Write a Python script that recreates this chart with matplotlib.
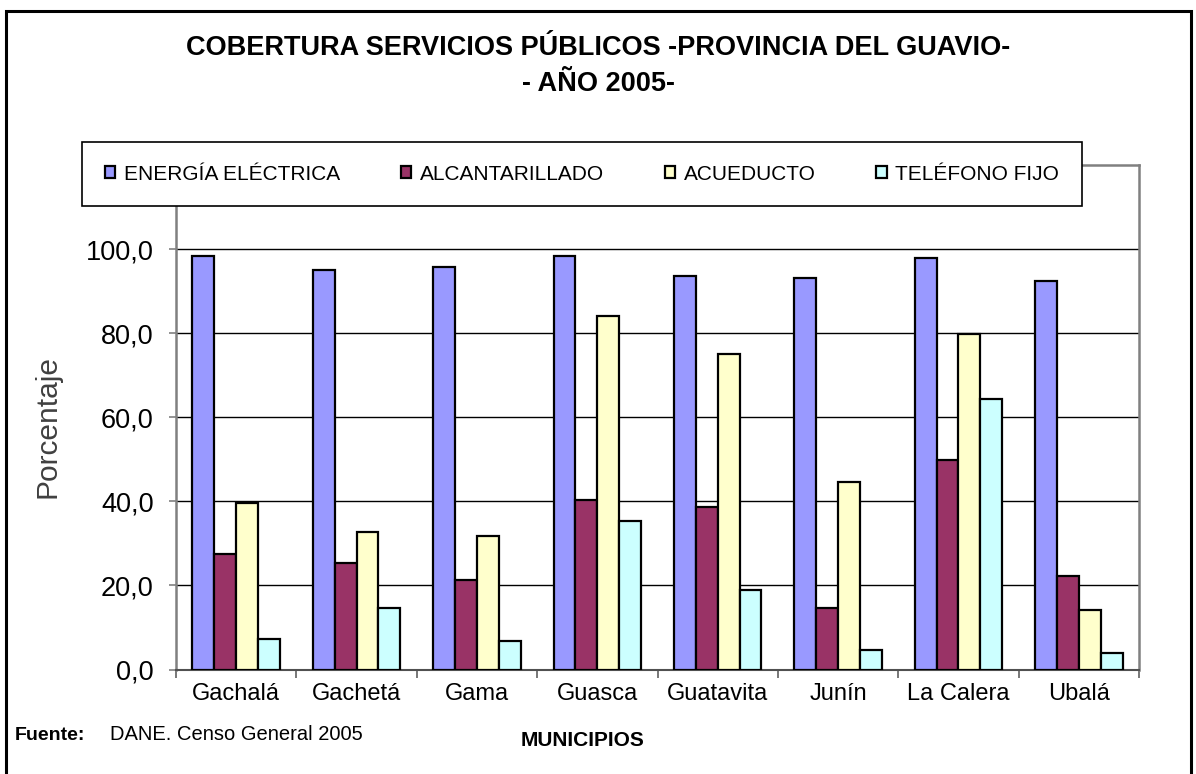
import matplotlib
matplotlib.use('Agg')
import matplotlib.pyplot as plt
import numpy as np
from matplotlib.patches import Rectangle

municipios = ['Gachalá', 'Gachetá', 'Gama', 'Guasca', 'Guatavita', 'Junín', 'La Calera', 'Ubalá']
energia = [98.4, 95.1, 95.7, 98.4, 93.5, 93.1, 97.8, 92.5]
alcantarillado = [27.5, 25.4, 21.2, 40.2, 38.7, 14.7, 49.8, 22.2]
acueducto = [39.7, 32.8, 31.7, 84.0, 75.0, 44.6, 79.8, 14.2]
telefono = [7.3, 14.7, 6.8, 35.4, 19.0, 4.7, 64.3, 4.0]
series_names = ['ENERGÍA ELÉCTRICA', 'ALCANTARILLADO', 'ACUEDUCTO', 'TELÉFONO FIJO']
yticks = [0, 20, 40, 60, 80, 100]
ytick_labels = ['0,0', '20,0', '40,0', '60,0', '80,0', '100,0']

colors = ['#9999FF', '#993366', '#FFFFCC', '#CCFFFF']
FONT = ['Liberation Sans', 'DejaVu Sans']
plt.rcParams['font.family'] = FONT

W, H = 1196, 774
fig = plt.figure(figsize=(W / 100, H / 100), dpi=100)
ax = fig.add_axes([176 / W, 1 - 669.5 / H, (1139 - 176) / W, (669.5 - 165) / H])

x = np.arange(len(municipios))
bw = 1 / 5.5
handles = []
for i, (vals, c, name) in enumerate(zip([energia, alcantarillado, acueducto, telefono], colors, series_names)):
    b = ax.bar(x + (i - 1.5) * bw, vals, bw, color=c, edgecolor='black',
               linewidth=1.6, label=name, zorder=3)
    handles.append(b)

ax.set_xlim(-0.5, len(municipios) - 0.5)
ax.set_ylim(0, 120)
ax.set_yticks(yticks)
ax.set_yticklabels(ytick_labels, fontsize=19.5)
ax.set_xticks(x)
ax.set_xticklabels(municipios, fontsize=17)
ax.set_xticks(np.arange(len(municipios) + 1) - 0.5, minor=True)
ax.tick_params(axis='x', which='major', length=0, pad=10)
ax.tick_params(axis='x', which='minor', length=6, width=1.2, color='#606060', direction='out')
ax.tick_params(axis='y', which='major', length=5, width=1.2, color='#808080', direction='out', pad=11)
ax.yaxis.grid(True, color='black', linewidth=1.0, zorder=0)
ax.set_axisbelow(True)
for s in ['left', 'top', 'right']:
    ax.spines[s].set_color('#808080')
    ax.spines[s].set_linewidth(1.8)
ax.spines['bottom'].set_color('#505050')
ax.spines['bottom'].set_linewidth(1.5)

# Legend
leg = fig.legend(handles=handles, labels=series_names, loc='center',
                 bbox_to_anchor=(82 / W, 1 - 207 / H, 1000 / W, 66 / H),
                 mode='expand', ncol=4, fontsize=15, frameon=True, fancybox=False,
                 edgecolor='black', framealpha=1, borderpad=1.1, borderaxespad=0,
                 handlelength=0.5, handleheight=0.5, handletextpad=0.4)
leg.get_frame().set_linewidth(1.2)

# Titles and labels
fig.text(598 / W, 1 - 48 / H, 'COBERTURA SERVICIOS PÚBLICOS -PROVINCIA DEL GUAVIO-',
         ha='center', va='center', fontsize=19.5, fontweight='bold')
fig.text(598 / W, 1 - 84 / H, '- AÑO 2005-', ha='center', va='center',
         fontsize=19.5, fontweight='bold')
fig.text(48 / W, 1 - 427 / H, 'Porcentaje', rotation=90, ha='center', va='center',
         fontsize=21.5, color='#404040')
fig.text(583 / W, 1 - 741 / H, 'MUNICIPIOS', ha='center', va='center',
         fontsize=15, fontweight='bold')
fig.text(15 / W, 1 - 735 / H, 'Fuente:', ha='left', va='center',
         fontsize=14, fontweight='bold')
fig.text(110 / W, 1 - 735 / H, 'DANE. Censo General 2005', ha='left', va='center',
         fontsize=14.5)

# Outer frame
fig.patches.append(Rectangle((5.5 / W, -0.05), (1190.5 - 5.5) / W, 1.05 - 11 / H,
                             transform=fig.transFigure, fill=False,
                             linewidth=2.2, edgecolor='black'))

fig.savefig('out.png', dpi=100)
